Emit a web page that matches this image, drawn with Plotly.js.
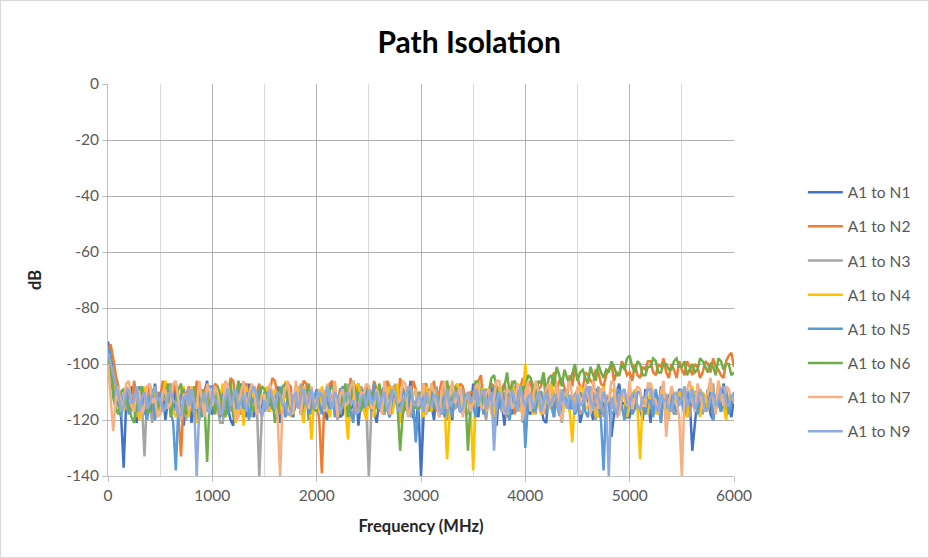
<!DOCTYPE html>
<html>
<head>
<meta charset="utf-8">
<script src="https://cdn.plot.ly/plotly-3.0.1.min.js"></script>
<style>
  html, body { margin: 0; padding: 0; background: #fff; }
  #chart { width: 929px; height: 558px; box-sizing: border-box; border: 1px solid #d9d9d9; }
</style>
</head>
<body>
<div id="chart"></div>
<script>
// Frequency axis (MHz), one sample every 25 MHz
const freqStep = 25;
const freq = Array.from({length: 241}, (_, i) => i * freqStep);

const seriesNames = ["A1 to N1", "A1 to N2", "A1 to N3", "A1 to N4", "A1 to N5", "A1 to N6", "A1 to N7", "A1 to N9"];

const n1 = [
  -92, -97, -104, -111, -110, -118, -137, -113, -112, -108, -116, -121, -109, -114, -118, -110, -113, -119, -107, -115,
  -115, -109, -120, -113, -111, -117, -108, -112, -117, -122, -113, -109, -121, -115, -110, -118, -114, -111, -106, -116,
  -118, -110, -112, -116, -109, -113, -116, -120, -122, -112, -111, -107, -114, -119, -107, -113, -119, -110, -113, -117,
  -110, -115, -117, -111, -113, -108, -121, -116, -108, -112, -115, -119, -112, -109, -118, -114, -109, -120, -114, -111,
  -116, -112, -111, -117, -120, -109, -107, -114, -113, -119, -118, -111, -110, -116, -115, -108, -122, -113, -112, -117,
  -109, -114, -117, -121, -113, -110, -108, -115, -119, -112, -114, -108, -111, -117, -116, -113, -106, -119, -121, -114,
  -140, -118, -112, -109, -115, -120, -109, -113, -118, -111, -113, -116, -120, -108, -110, -117, -116, -112, -112, -119,
  -107, -113, -119, -110, -114, -117, -111, -108, -117, -122, -109, -114, -122, -110, -113, -118, -108, -112, -116, -110,
  -112, -117, -118, -109, -110, -114, -115, -120, -121, -111, -108, -116, -114, -118, -119, -109, -111, -115, -116, -112,
  -109, -121, -117, -111, -113, -116, -120, -109, -110, -118, -115, -112, -112, -126, -118, -110, -107, -114, -114, -119,
  -119, -112, -111, -116, -116, -120, -109, -113, -121, -110, -113, -117, -108, -114, -117, -111, -112, -118, -115, -109,
  -110, -116, -118, -112, -131, -120, -112, -109, -116, -114, -109, -118, -120, -111, -113, -117, -107, -112, -115, -119,
  -112];

const n2 = [
  -95, -93, -98, -104, -108, -115, -113, -109, -110, -117, -106, -112, -115, -108, -111, -116, -107, -112, -118, -110,
  -112, -106, -109, -114, -116, -110, -107, -118, -133, -112, -111, -108, -114, -117, -106, -111, -117, -109, -110, -115,
  -113, -107, -108, -116, -119, -110, -111, -105, -106, -113, -115, -118, -109, -107, -112, -116, -117, -110, -107, -114,
  -114, -109, -110, -105, -106, -113, -118, -111, -112, -107, -108, -117, -115, -110, -111, -106, -107, -115, -116, -112,
  -113, -120, -139, -111, -110, -107, -106, -116, -114, -109, -109, -112, -117, -105, -112, -118, -107, -111, -115, -108,
  -110, -114, -106, -109, -113, -117, -118, -106, -108, -112, -111, -115, -105, -109, -116, -111, -112, -106, -109, -117,
  -114, -108, -107, -112, -111, -106, -117, -110, -106, -114, -112, -108, -109, -116, -115, -107, -108, -112, -113, -110,
  -110, -115, -106, -104, -116, -110, -111, -107, -108, -117, -114, -109, -107, -112, -112, -106, -118, -111, -109, -105,
  -111, -108, -106, -112, -113, -109, -108, -104, -115, -110, -107, -103, -110, -106, -105, -109, -112, -104, -108, -102,
  -105, -108, -109, -103, -104, -106, -107, -102, -103, -107, -108, -104, -102, -100, -106, -103, -104, -99, -101, -104,
  -103, -106, -100, -104, -105, -101, -102, -99, -99, -103, -104, -100, -101, -98, -103, -105, -100, -102, -105, -99,
  -102, -104, -99, -101, -104, -100, -101, -105, -103, -99, -100, -103, -98, -101, -102, -104, -105, -99, -97, -96,
  -101];

const n3 = [
  -97, -101, -106, -112, -114, -110, -109, -116, -117, -111, -112, -119, -108, -114, -133, -110, -115, -121, -110, -113,
  -118, -111, -113, -108, -107, -117, -116, -112, -111, -114, -120, -109, -109, -118, -114, -111, -112, -116, -117, -110,
  -110, -114, -115, -121, -121, -112, -108, -117, -113, -110, -118, -114, -111, -108, -116, -119, -109, -113, -140, -118,
  -114, -110, -108, -116, -117, -112, -112, -109, -119, -113, -110, -116, -115, -111, -107, -118, -113, -109, -118, -114,
  -111, -115, -116, -110, -109, -117, -114, -112, -120, -111, -112, -115, -107, -119, -117, -113, -113, -108, -110, -116,
  -140, -116, -115, -111, -109, -114, -118, -110, -112, -117, -107, -113, -116, -119, -111, -108, -119, -115, -113, -112,
  -110, -118, -117, -111, -112, -115, -108, -119, -115, -109, -120, -113, -111, -116, -114, -110, -109, -117, -118, -112,
  -113, -116, -108, -112, -116, -120, -111, -114, -119, -109, -114, -117, -110, -113, -117, -108, -112, -115, -108, -121,
  -115, -111, -110, -114, -118, -109, -113, -116, -107, -112, -116, -119, -111, -115, -121, -110, -109, -117, -114, -111,
  -112, -118, -117, -113, -110, -108, -115, -120, -108, -114, -119, -111, -113, -116, -111, -109, -116, -112, -109, -117,
  -114, -111, -110, -116, -117, -113, -112, -109, -108, -118, -115, -112, -120, -110, -111, -115, -113, -117, -118, -110,
  -109, -113, -116, -119, -112, -110, -110, -115, -118, -112, -113, -109, -107, -116, -115, -111, -111, -118, -117, -113,
  -113];

const n4 = [
  -100, -104, -107, -113, -112, -118, -116, -111, -109, -115, -114, -110, -120, -113, -108, -117, -113, -109, -111, -116,
  -117, -112, -106, -110, -113, -117, -119, -114, -110, -108, -115, -119, -108, -113, -121, -110, -112, -116, -109, -114,
  -114, -110, -118, -112, -107, -115, -112, -109, -116, -121, -110, -114, -122, -108, -113, -117, -108, -111, -115, -119,
  -111, -108, -117, -113, -109, -112, -114, -118, -106, -111, -119, -115, -112, -108, -116, -121, -110, -114, -127, -113,
  -113, -117, -108, -112, -115, -119, -111, -107, -118, -113, -109, -116, -127, -111, -114, -108, -107, -115, -116, -120,
  -112, -109, -119, -113, -110, -116, -115, -111, -108, -118, -113, -107, -121, -114, -109, -112, -116, -110, -111, -117,
  -114, -119, -108, -112, -117, -109, -112, -116, -110, -114, -134, -118, -113, -108, -107, -115, -118, -112, -111, -116,
  -138, -113, -115, -109, -109, -117, -113, -110, -119, -114, -108, -112, -116, -119, -112, -107, -110, -115, -117, -111,
  -100, -111, -114, -118, -109, -113, -118, -110, -112, -116, -107, -113, -115, -109, -120, -114, -111, -117, -128, -112,
  -113, -108, -109, -115, -116, -111, -111, -118, -119, -113, -108, -115, -114, -109, -110, -116, -117, -112, -112, -119,
  -115, -111, -109, -116, -134, -112, -113, -118, -107, -110, -118, -114, -111, -109, -116, -120, -109, -113, -114, -110,
  -112, -117, -119, -110, -108, -114, -115, -119, -110, -112, -117, -109, -113, -116, -106, -111, -116, -120, -111, -113,
  -114];

const n5 = [
  -94, -98, -109, -113, -115, -119, -111, -108, -118, -114, -113, -117, -108, -112, -116, -120, -112, -109, -120, -115,
  -110, -116, -114, -111, -117, -121, -138, -115, -111, -109, -116, -113, -109, -118, -113, -110, -119, -115, -112, -108,
  -108, -113, -115, -119, -111, -114, -118, -109, -113, -116, -107, -112, -116, -110, -120, -114, -112, -118, -109, -113,
  -117, -110, -112, -116, -114, -119, -108, -113, -119, -111, -113, -117, -110, -114, -116, -109, -111, -118, -115, -112,
  -109, -114, -118, -112, -113, -116, -111, -119, -116, -110, -108, -113, -114, -117, -121, -111, -110, -116, -115, -109,
  -112, -117, -107, -113, -117, -110, -113, -116, -119, -112, -110, -115, -115, -109, -111, -118, -108, -114, -128, -116,
  -114, -110, -118, -113, -110, -116, -116, -112, -112, -119, -109, -114, -119, -110, -113, -117, -117, -112, -111, -115,
  -115, -119, -110, -113, -118, -111, -112, -117, -108, -113, -116, -110, -113, -118, -120, -112, -111, -116, -114, -109,
  -130, -114, -112, -117, -116, -110, -110, -115, -118, -112, -113, -119, -109, -114, -117, -111, -114, -116, -111, -118,
  -116, -110, -112, -117, -119, -113, -110, -115, -114, -120, -138, -112, -113, -118, -117, -111, -109, -115, -120, -113,
  -112, -118, -116, -110, -110, -115, -118, -113, -113, -119, -109, -114, -121, -111, -114, -117, -111, -115, -117, -112,
  -113, -118, -109, -114, -115, -111, -118, -113, -111, -116, -116, -110, -120, -115, -112, -117, -114, -109, -118, -114,
  -110];

const n6 = [
  -98, -102, -112, -116, -118, -110, -109, -114, -115, -119, -121, -113, -110, -108, -114, -117, -117, -111, -108, -115,
  -116, -112, -111, -107, -119, -114, -113, -109, -107, -116, -118, -113, -112, -108, -115, -120, -109, -114, -135, -112,
  -113, -118, -108, -111, -116, -119, -111, -106, -119, -113, -106, -110, -114, -117, -110, -115, -117, -112, -112, -108,
  -109, -114, -115, -111, -121, -117, -111, -108, -107, -113, -116, -118, -113, -110, -118, -114, -110, -107, -114, -116,
  -117, -111, -110, -115, -113, -109, -108, -112, -116, -118, -111, -107, -119, -113, -106, -110, -114, -117, -109, -112,
  -115, -110, -111, -116, -107, -112, -117, -113, -112, -108, -109, -115, -131, -118, -113, -109, -108, -114, -116, -110,
  -111, -107, -114, -117, -107, -110, -112, -116, -118, -111, -106, -112, -113, -108, -110, -115, -116, -111, -131, -114,
  -112, -106, -107, -111, -115, -109, -110, -105, -104, -108, -113, -110, -108, -103, -111, -107, -106, -110, -114, -108,
  -109, -104, -105, -108, -112, -106, -107, -103, -110, -105, -104, -108, -101, -104, -108, -102, -105, -107, -103, -100,
  -106, -103, -102, -105, -107, -101, -104, -106, -100, -103, -105, -102, -103, -99, -101, -104, -104, -100, -102, -98,
  -97, -101, -103, -99, -100, -104, -104, -101, -101, -98, -99, -103, -103, -100, -100, -102, -102, -99, -98, -101,
  -101, -99, -104, -102, -100, -103, -102, -98, -99, -101, -103, -100, -101, -104, -98, -99, -102, -100, -100, -104,
  -103];

const n7 = [
  -100, -114, -124, -112, -108, -116, -113, -107, -106, -115, -117, -109, -110, -118, -115, -108, -107, -114, -112, -119,
  -118, -110, -109, -116, -114, -107, -106, -113, -120, -111, -111, -117, -108, -114, -116, -106, -112, -119, -107, -110,
  -115, -108, -110, -118, -117, -106, -108, -114, -113, -120, -119, -110, -106, -115, -112, -107, -109, -118, -116, -111,
  -111, -117, -107, -110, -114, -119, -140, -112, -109, -106, -115, -118, -106, -113, -118, -108, -112, -116, -108, -114,
  -116, -109, -110, -117, -107, -113, -113, -106, -119, -111, -109, -115, -114, -108, -106, -118, -117, -110, -111, -107,
  -108, -116, -115, -109, -112, -118, -106, -113, -118, -108, -110, -114, -113, -106, -107, -119, -116, -111, -109, -115,
  -112, -107, -118, -113, -107, -110, -114, -119, -109, -106, -116, -111, -106, -114, -111, -108, -119, -113, -110, -117,
  -113, -108, -107, -115, -116, -110, -109, -118, -112, -106, -106, -113, -118, -109, -110, -116, -114, -107, -108, -120,
  -111, -106, -117, -112, -106, -110, -113, -118, -109, -107, -115, -112, -107, -116, -120, -111, -110, -106, -112, -117,
  -108, -113, -114, -107, -110, -118, -106, -111, -116, -109, -109, -114, -113, -106, -107, -119, -118, -110, -111, -115,
  -106, -116, -112, -108, -109, -115, -115, -107, -107, -112, -113, -118, -110, -106, -126, -114, -108, -111, -114, -119,
  -140, -112, -109, -106, -113, -117, -107, -110, -116, -112, -110, -105, -112, -118, -106, -111, -115, -108, -109, -113,
  -111];

const n9 = [
  -96, -100, -103, -108, -111, -117, -115, -110, -109, -114, -113, -108, -117, -112, -110, -116, -114, -111, -108, -113,
  -112, -117, -116, -111, -110, -113, -114, -119, -118, -112, -111, -115, -109, -113, -140, -116, -113, -110, -115, -118,
  -110, -113, -114, -118, -117, -112, -109, -115, -112, -109, -116, -113, -111, -117, -113, -110, -108, -112, -115, -119,
  -113, -116, -109, -112, -116, -110, -111, -115, -114, -118, -118, -112, -110, -116, -112, -109, -115, -113, -109, -116,
  -114, -110, -111, -116, -108, -113, -116, -110, -112, -117, -115, -111, -110, -114, -113, -118, -117, -112, -111, -115,
  -109, -114, -113, -110, -116, -112, -110, -117, -114, -109, -111, -116, -117, -113, -112, -109, -108, -114, -115, -111,
  -113, -117, -110, -114, -115, -111, -112, -116, -118, -113, -109, -115, -114, -110, -111, -117, -116, -112, -110, -114,
  -112, -109, -115, -111, -109, -116, -113, -110, -131, -114, -110, -113, -116, -118, -112, -109, -114, -117, -108, -112,
  -115, -112, -111, -116, -113, -110, -117, -114, -110, -115, -114, -111, -112, -118, -109, -113, -116, -111, -113, -117,
  -111, -115, -114, -110, -108, -113, -116, -111, -112, -116, -110, -114, -140, -112, -115, -118, -113, -110, -109, -114,
  -114, -111, -110, -115, -116, -112, -112, -109, -109, -114, -115, -117, -111, -113, -113, -116, -117, -111, -110, -115,
  -112, -108, -115, -113, -109, -116, -114, -110, -111, -117, -116, -112, -110, -115, -113, -109, -108, -114, -115, -111,
  -112];

const seriesValues = [n1, n2, n3, n4, n5, n6, n7, n9];
const seriesColors = ["#4472C4", "#ED7D31", "#A5A5A5", "#FFC000", "#5B9BD5", "#70AD47", "#F4B183", "#8FAADC"];

const yTicks = [0, -20, -40, -60, -80, -100, -120, -140];
const xTicks = [0, 1000, 2000, 3000, 4000, 5000, 6000];

const traces = seriesNames.map((name, k) => ({
  type: "scatter",
  mode: "lines",
  name: name,
  legendgroup: "g" + k,
  x: freq,
  y: seriesValues[k],
  line: { color: seriesColors[k], width: 2.5 }
}));

const fontFam = "Lato, 'Liberation Sans', sans-serif";
const layout = {
  width: 927,
  height: 556,
  margin: { l: 107, r: 194, t: 83, b: 81 },
  paper_bgcolor: "#ffffff",
  plot_bgcolor: "#ffffff",
  font: { family: fontFam, size: 15, color: "#595959" },
  title: {
    text: "<b>Path Isolation</b>",
    font: { family: fontFam, size: 30, color: "#000000" },
    x: 0.505, xanchor: "center", y: 0.925, yanchor: "middle"
  },
  xaxis: {
    range: [0, 6000],
    tickvals: xTicks,
    ticktext: xTicks.map(String),
    showgrid: true,
    gridcolor: "#B0B0B0",
    gridwidth: 1,
    minor: { dtick: 500, tick0: 0, showgrid: true, gridcolor: "#D9D9D9", gridwidth: 1 },
    showline: true,
    linecolor: "#BFBFBF",
    ticks: "outside",
    ticklen: 5,
    tickcolor: "#BFBFBF",
    zeroline: false,
    tickfont: { family: fontFam, size: 15.5, color: "#595959" },
    title: { text: "<b>Frequency (MHz)</b>", font: { family: fontFam, size: 16.5, color: "#262626" }, standoff: 17 }
  },
  yaxis: {
    range: [-140, 0],
    tickvals: yTicks,
    ticktext: yTicks.map(String),
    showgrid: true,
    gridcolor: "#B0B0B0",
    gridwidth: 1,
    showline: true,
    linecolor: "#BFBFBF",
    ticks: "outside",
    ticklen: 5,
    tickcolor: "#BFBFBF",
    zeroline: false,
    tickfont: { family: fontFam, size: 15.5, color: "#595959" },
    title: { text: "<b>dB</b>", font: { family: fontFam, size: 16.5, color: "#262626" }, standoff: 20 }
  },
  showlegend: true,
  legend: {
    x: 1.11, xanchor: "left",
    y: 0.418, yanchor: "middle",
    traceorder: "grouped",
    tracegroupgap: 11,
    itemwidth: 35,
    font: { family: fontFam, size: 15.5, color: "#595959" },
    bgcolor: "rgba(0,0,0,0)"
  }
};

Plotly.newPlot("chart", traces, layout, { displayModeBar: false, staticPlot: true });
</script>
</body>
</html>
